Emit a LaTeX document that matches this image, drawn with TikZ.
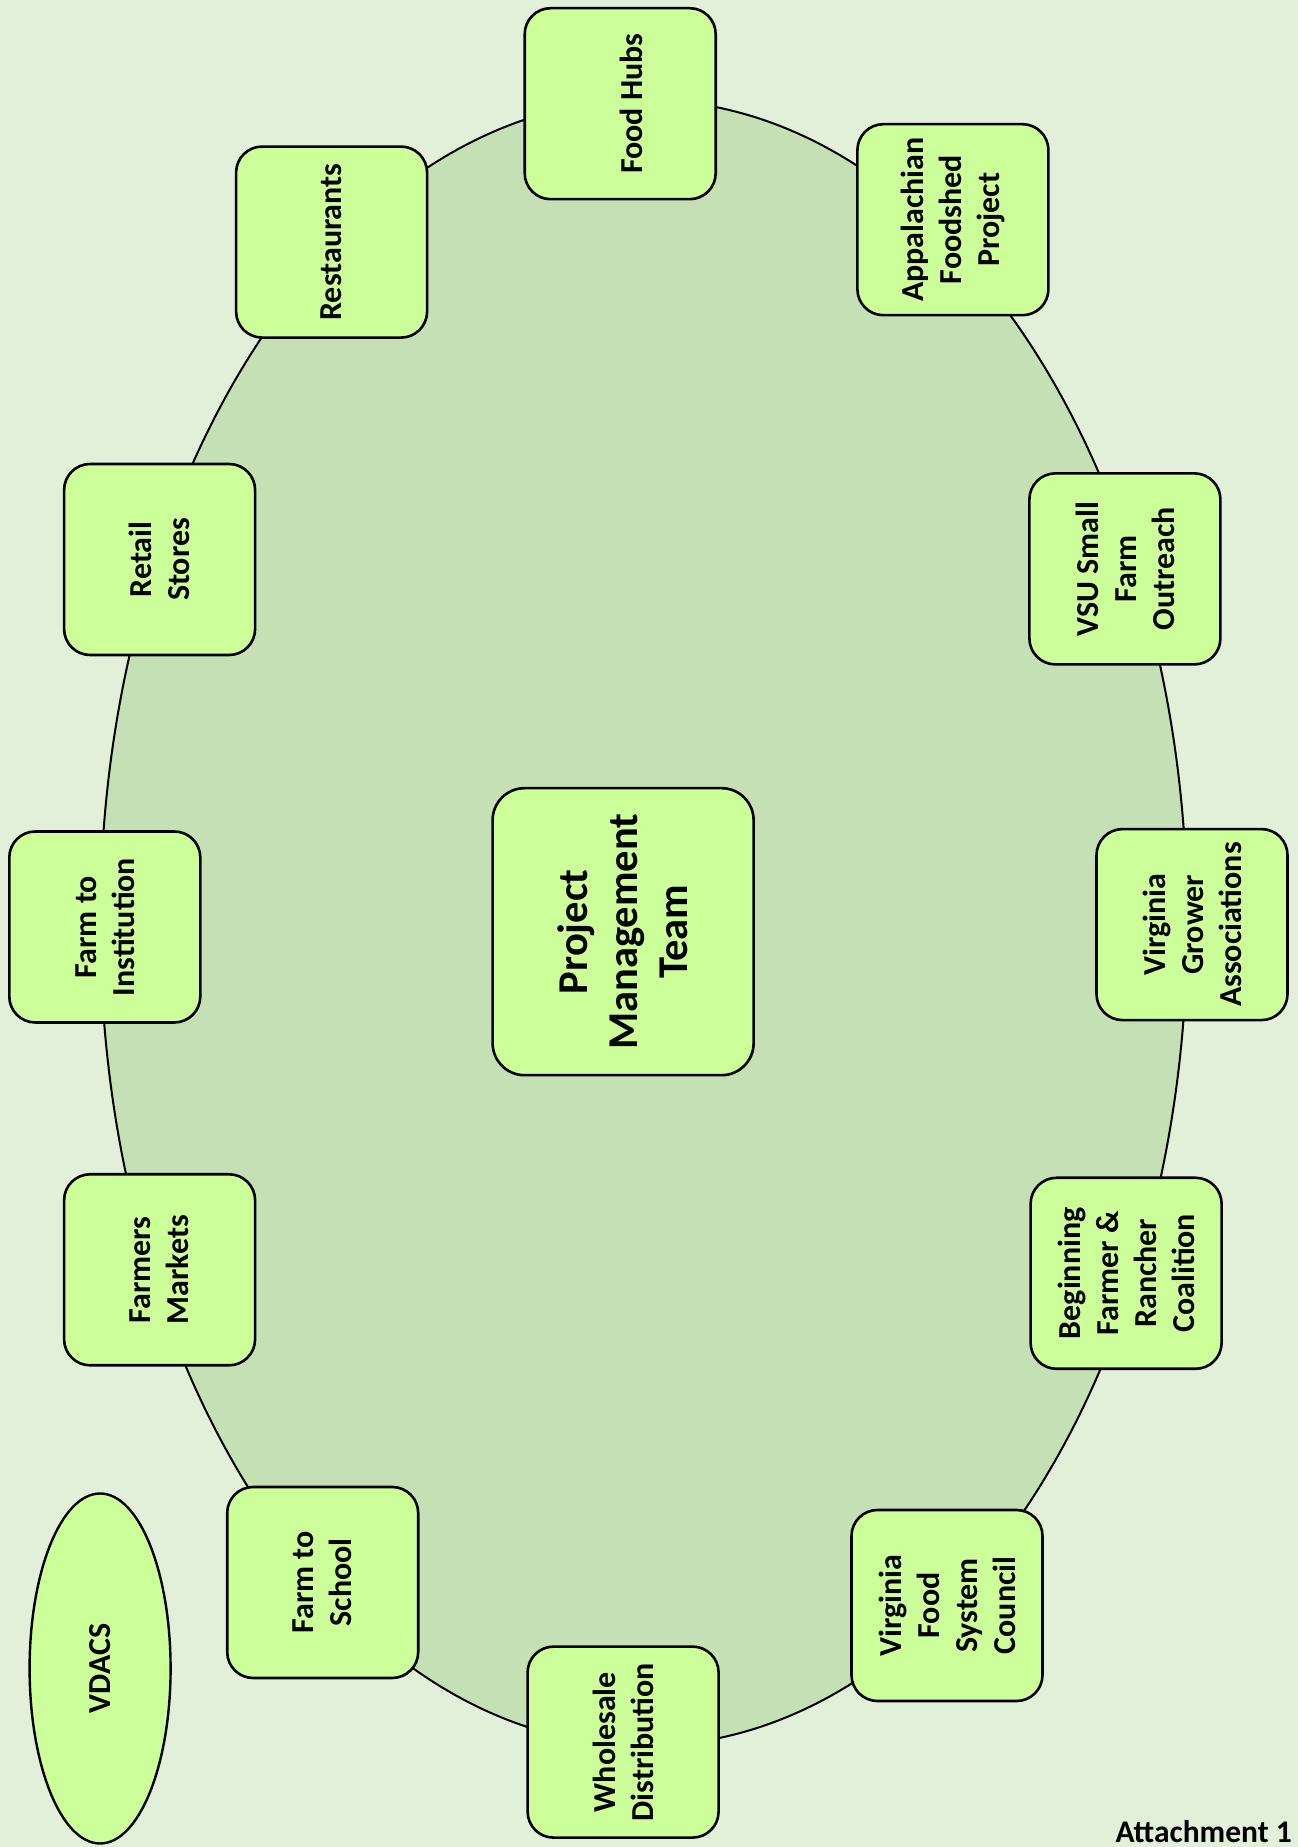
\documentclass[tikz,border=0pt]{standalone}
\usepackage{fontspec}
\setmainfont{Carlito}
\usetikzlibrary{shapes.geometric}
\definecolor{bg}{HTML}{E2EFD9}
\definecolor{oval}{HTML}{C5E0B4}
\definecolor{boxfill}{HTML}{CCFF99}
\begin{document}
\begin{tikzpicture}[x=1pt,y=1pt,
  partner/.style={draw=black, line width=2.6pt, fill=boxfill, rounded corners=26pt,
    rotate=90, minimum width=191pt, minimum height=191pt, align=center,
    font=\fontsize{32}{38}\selectfont\bfseries, inner sep=0pt},
  core/.style={partner, minimum width=287pt, minimum height=261pt, rounded corners=32pt,
    font=\fontsize{42.5}{50}\selectfont\bfseries},
  agency/.style={ellipse, draw=black, line width=2.4pt, fill=boxfill, inner sep=0pt,
    rotate=90, minimum width=350pt, minimum height=141pt,
    font=\fontsize{32}{38}\selectfont\bfseries},
  plaintext/.style={rotate=90, inner sep=0pt, align=center,
    font=\fontsize{32}{38}\selectfont\bfseries},
]
\fill[bg] (0,0) rectangle (1298,1847);
\useasboundingbox (0,0) rectangle (1298,1847);
\node[ellipse, draw=black, line width=2pt, fill=oval, inner sep=0pt,
  minimum width=1087pt, minimum height=1646pt] (field) at (643.7,924.1) {};
\node[partner] (foodhubs) at (620.2,1743.3) {};
\node[plaintext] (foodhubs-text) at (631,1743.3) {Food Hubs};
\node[partner] (appal) at (952.9,1627.3) {Appalachian\\Foodshed\\Project};
\node[partner] (rest) at (331.6,1604.9) {Restaurants};
\node[partner] (retail) at (159.6,1287.5) {Retail\\Stores};
\node[partner] (vsu) at (1124.9,1278.1) {VSU Small\\Farm\\Outreach};
\node[partner] (fti) at (104.8,920.0) {Farm to\\Institution};
\node[partner] (vga) at (1192.0,922.4) {Virginia\\Grower\\Associations};
\node[core] (pmt) at (623.1,915.3) {Project\\Management\\Team};
\node[partner] (fm) at (159.6,577.2) {Farmers\\Markets};
\node[partner] (bfrc) at (1126.1,573.7) {Beginning\\Farmer \&\\Rancher\\Coalition};
\node[partner] (fts) at (322.7,264.5) {Farm to\\School};
\node[partner] (vfsc) at (947.0,241.5) {Virginia\\Food\\System\\Council};
\node[partner] (whole) at (623.1,104.9) {Wholesale\\Distribution};
\node[agency] (vdacs) at (100.1,178.5) {VDACS};
\node[anchor=base east, inner sep=0pt, font=\fontsize{31.5}{38}\selectfont\bfseries]
  (attach) at (1292,5) {Attachment 1};
\end{tikzpicture}
\end{document}
